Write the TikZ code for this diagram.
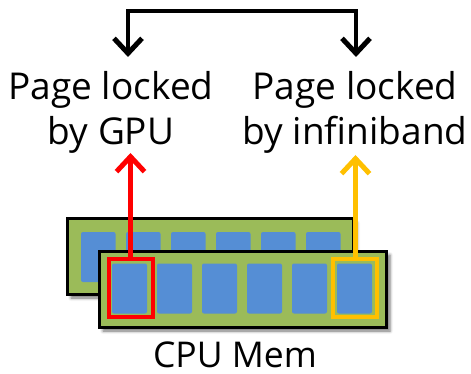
\documentclass[tikz,border=0pt]{standalone}
\usepackage{fontspec}
\setmainfont{Open Sans}
\usetikzlibrary{arrows.meta,shadows.blur}
\definecolor{boardgreen}{HTML}{9BBB59}
\definecolor{chipblue}{HTML}{558ED5}
\definecolor{lockred}{HTML}{FF0000}
\definecolor{lockyellow}{HTML}{FFC000}
\tikzset{
  board/.style={draw=black, line width=3pt, fill=boardgreen,
    blur shadow={shadow xshift=4pt, shadow yshift=-4pt, shadow blur radius=3pt, shadow opacity=55}},
  chip/.style={fill=chipblue, rounded corners=2pt},
  lockbox/.style={line width=4pt},
  barb/.tip={Straight Barb[length=15pt, width=28pt, line width=5pt]},
  lockarrow/.style={line width=5pt, -barb},
  label/.style={font=\fontsize{37}{45}\selectfont, align=center, inner sep=0pt},
  caption/.style={font=\fontsize{35.5}{40}\selectfont, inner sep=0pt},
}
\begin{document}
\begin{tikzpicture}[x=1pt, y=-1pt]
\useasboundingbox (0,0) rectangle (471,374);

% back memory module
\path[board] (67,219) rectangle (353,294);
\foreach \i in {0,...,5}
  \fill[chip] (81+45*\i,232) rectangle ++(34.5,50);

% front memory module
\path[board] (99,251) rectangle (386,327);
\foreach \i in {0,...,5}
  \fill[chip] (112+45*\i,263.5) rectangle ++(35,50);

% pinned pages
\draw[lockbox, draw=lockred] (109,259) rectangle (153,317);
\draw[lockbox, draw=lockyellow] (333,259) rectangle (377,317);
\coordinate (gpubox) at (130.5,259);
\coordinate (ibbox) at (355.5,259);

% labels
\node[label] (gpu) at (111,112) {Page locked\\by GPU};
\node[label] (ib) at (355,112) {Page locked\\by infiniband};
\node[caption, anchor=base] (mem) at (235,367) {CPU Mem};

\coordinate (gputip) at (130.5,153);
\coordinate (ibtip) at (355.5,155);
\draw[lockarrow, draw=lockred] (gpubox) -- (gputip);
\draw[lockarrow, draw=lockyellow] (ibbox) -- (ibtip);

% shared-access bracket
\coordinate (gpuend) at (128,57);
\coordinate (ibend) at (356,57);
\draw[line width=4.5pt, line join=miter, barb-barb]
  (gpuend) -- (128,11) -- (356,11) -- (ibend);
\end{tikzpicture}
\end{document}
